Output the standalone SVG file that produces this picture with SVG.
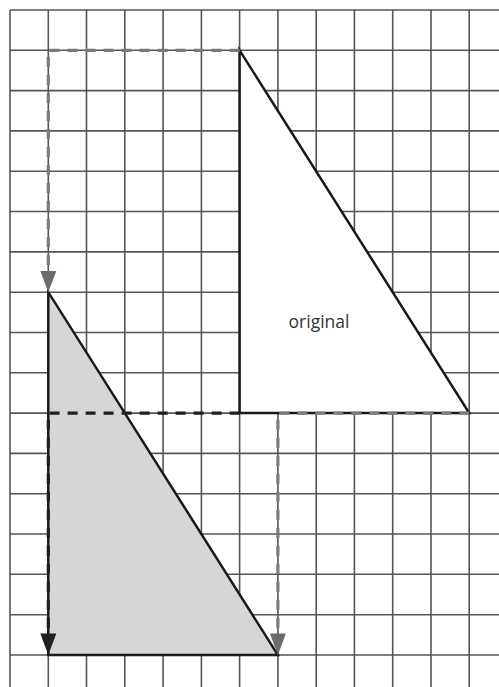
<svg xmlns="http://www.w3.org/2000/svg" width="499" height="687" viewBox="0 0 499 687">
<defs>
<style>
.grid line{stroke:#555;stroke-width:1.6}
.tri{stroke:#1a1a1a;stroke-width:2.5;stroke-linejoin:miter}
.dg{fill:none;stroke:#7a7a7a;stroke-width:3.2;stroke-dasharray:10 8}
.dk{fill:none;stroke:#1f1f1f;stroke-width:3.2;stroke-dasharray:10 8}
.lbl{font-family:"Open Sans","Liberation Sans",sans-serif;font-size:17.5px;fill:#333}
</style>
</defs>
<rect width="499" height="687" fill="#fff"/>
<g class="grid" id="grid">
<line x1="10" y1="10" x2="10" y2="687"/>
<line x1="48.3" y1="10" x2="48.3" y2="687"/>
<line x1="86.5" y1="10" x2="86.5" y2="687"/>
<line x1="124.8" y1="10" x2="124.8" y2="687"/>
<line x1="163.1" y1="10" x2="163.1" y2="687"/>
<line x1="201.4" y1="10" x2="201.4" y2="687"/>
<line x1="239.6" y1="10" x2="239.6" y2="687"/>
<line x1="277.9" y1="10" x2="277.9" y2="687"/>
<line x1="316.2" y1="10" x2="316.2" y2="687"/>
<line x1="354.4" y1="10" x2="354.4" y2="687"/>
<line x1="392.7" y1="10" x2="392.7" y2="687"/>
<line x1="431" y1="10" x2="431" y2="687"/>
<line x1="469.2" y1="10" x2="469.2" y2="687"/>
<line x1="10" y1="10" x2="499" y2="10"/>
<line x1="10" y1="50.3" x2="499" y2="50.3"/>
<line x1="10" y1="90.6" x2="499" y2="90.6"/>
<line x1="10" y1="130.9" x2="499" y2="130.9"/>
<line x1="10" y1="171.2" x2="499" y2="171.2"/>
<line x1="10" y1="211.5" x2="499" y2="211.5"/>
<line x1="10" y1="251.9" x2="499" y2="251.9"/>
<line x1="10" y1="292.2" x2="499" y2="292.2"/>
<line x1="10" y1="332.5" x2="499" y2="332.5"/>
<line x1="10" y1="372.8" x2="499" y2="372.8"/>
<line x1="10" y1="413.1" x2="499" y2="413.1"/>
<line x1="10" y1="453.4" x2="499" y2="453.4"/>
<line x1="10" y1="493.7" x2="499" y2="493.7"/>
<line x1="10" y1="534" x2="499" y2="534"/>
<line x1="10" y1="574.3" x2="499" y2="574.3"/>
<line x1="10" y1="614.7" x2="499" y2="614.7"/>
<line x1="10" y1="655" x2="499" y2="655"/>
</g>
<g id="original">
<polygon class="tri" points="239.6,50.3 239.6,413.1 469.2,413.1" fill="#fff"/>
<text class="lbl" x="319" y="327.5" text-anchor="middle">original</text>
</g>
<g id="image">
<polygon class="tri" points="48.3,292.2 48.3,655 277.9,655" fill="#d5d6d8"/>
</g>
<g id="connectors">
<path class="dg" d="M239.6,50.3 H48.3 V272"/>
<path d="M40.3,271 H56.3 L48.3,292.2 Z" fill="#6b6b6b"/>
<path class="dk" d="M239.6,413.1 H48.3 V634"/>
<path d="M40.3,633.5 H56.3 L48.3,655 Z" fill="#1f1f1f"/>
<path class="dg" d="M469.2,413.1 H277.9 V634"/>
<path d="M269.9,633.5 H285.9 L277.9,655 Z" fill="#6b6b6b"/>
</g>
</svg>
